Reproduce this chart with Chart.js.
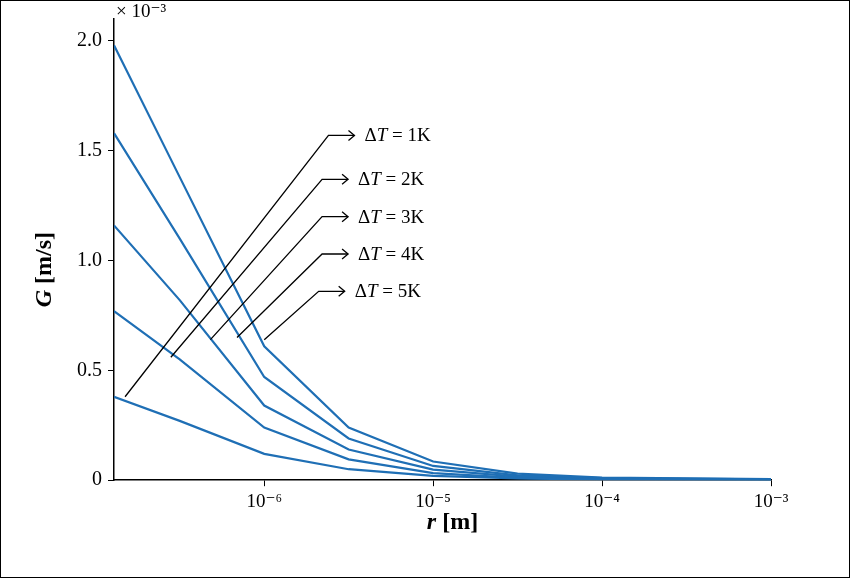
<!DOCTYPE html>
<html><head><meta charset="utf-8">
<script src="https://cdn.jsdelivr.net/npm/chart.js@4/dist/chart.umd.min.js"></script>
<style>body{margin:0;background:#fff}#w{width:848px;height:576px;border:1px solid #000;position:relative}canvas{display:block}</style>
</head><body><div id="w"><canvas id="c" width="848" height="576" style="width:848px;height:576px"></canvas></div>
<script>
const rValues=[1.29e-7,3.16e-7,1e-6,3.16e-6,1e-5,3.16e-5,1e-4,1e-3];
const g5=[1.98,1.38,0.61,0.24,0.085,0.03,0.012,0.005];
const g4=[1.58,1.10,0.47,0.19,0.065,0.022,0.009,0.004];
const g3=[1.16,0.82,0.34,0.14,0.048,0.016,0.007,0.003];
const g2=[0.77,0.55,0.24,0.095,0.032,0.011,0.005,0.002];
const g1=[0.38,0.27,0.12,0.05,0.02,0.008,0.003,0.001];
const seriesLabels=['ΔT = 1K','ΔT = 2K','ΔT = 3K','ΔT = 4K','ΔT = 5K'];
// leader line start (on curve) and elbow, in data units (r, G×1e-3)
const leaderStartR=[1.5e-7,2.8e-7,4.8e-7,6.9e-7,1e-6];
const leaderStartG=[0.38,0.56,0.64,0.65,0.64];
const leaderElbowR=[2.4e-6,2.2e-6,2.2e-6,2.2e-6,2.1e-6];
const leaderElbowG=[1.57,1.37,1.20,1.03,0.86];
const yTicks=[0,0.5,1.0,1.5,2.0];
const xTicks=[1e-6,1e-5,1e-4,1e-3];
const sup={'-':'⁻','0':'⁰','1':'¹','2':'²','3':'³','4':'⁴','5':'⁵','6':'⁶','7':'⁷','8':'⁸','9':'⁹'};
const all=[g1,g2,g3,g4,g5];
const blue='#1f6fb5';
const serif='"Liberation Serif", "DejaVu Serif", serif';
const deco={id:'deco',afterDraw(ch){
  const c=ch.ctx,x=ch.scales.x,y=ch.scales.y,a=ch.chartArea;
  c.save();c.strokeStyle='#000';c.lineWidth=1.3;c.fillStyle='#000';
  c.textBaseline='middle';
  for(let i=0;i<5;i++){
    const x0=x.getPixelForValue(leaderStartR[i]),y0=y.getPixelForValue(leaderStartG[i]);
    const x1=x.getPixelForValue(leaderElbowR[i]),y1=y.getPixelForValue(leaderElbowG[i]);
    c.beginPath();c.moveTo(x0,y0);c.lineTo(x1,y1);c.lineTo(x1+26,y1);c.stroke();
    c.beginPath();c.moveTo(x1+20,y1-5);c.lineTo(x1+26,y1);c.lineTo(x1+20,y1+5);c.stroke();
    const tx=x1+36;
    c.font='19px '+serif;c.fillText('Δ',tx,y1+1);let w=c.measureText('Δ').width;
    c.font='italic 19px '+serif;c.fillText('T',tx+w,y1+1);w+=c.measureText('T').width;
    c.font='19px '+serif;c.fillText(' = '+(i+1)+'K',tx+w,y1+1);
  }
  c.font='19px '+serif;c.textBaseline='alphabetic';c.fillText('× 10⁻³',a.left+2,a.top-2);
  c.font='bold italic 24px '+serif;let t1='r',t2=' [m]';
  let w1=c.measureText(t1).width;c.font='bold 24px '+serif;let w2=c.measureText(t2).width;
  let cx=(a.left+a.right)/2-(w1+w2)/2+10;
  c.font='bold italic 24px '+serif;c.fillText(t1,cx,528);c.font='bold 24px '+serif;c.fillText(t2,cx+w1,528);
  c.translate(44,(a.top+a.bottom)/2+20);c.rotate(-Math.PI/2);
  c.font='bold italic 24px '+serif;w1=c.measureText('G').width;c.font='bold 24px '+serif;w2=c.measureText(' [m/s]').width;
  c.textBaseline='middle';
  c.font='bold italic 24px '+serif;c.fillText('G',-(w1+w2)/2,0);c.font='bold 24px '+serif;c.fillText(' [m/s]',-(w1+w2)/2+w1,0);
  c.restore();
}};
new Chart(document.getElementById('c'),{type:'line',
 data:{datasets:all.map((g,i)=>({label:seriesLabels[i],data:rValues.map((r,j)=>({x:r,y:g[j]})),borderColor:blue,borderWidth:2.2,pointRadius:0,tension:0}))},
 options:{responsive:false,animation:false,devicePixelRatio:1,
  layout:{padding:{left:70,right:78,top:18,bottom:60}},
  plugins:{legend:{display:false},tooltip:{enabled:false}},
  scales:{
   x:{type:'logarithmic',min:1.29e-7,max:1e-3,border:{color:'#000',width:1.5},
    grid:{drawOnChartArea:false,color:'#000',tickLength:6},
    afterBuildTicks(s){s.ticks=xTicks.map(v=>({value:v,major:true}));},
    ticks:{color:'#000',font:{family:serif,size:19},padding:4,maxRotation:0,autoSkip:false,
     callback:v=>'10'+String(Math.round(Math.log10(v))).split('').map(ch=>sup[ch]).join('')}},
   y:{min:0,max:2.1,border:{color:'#000',width:1.5},
    grid:{drawOnChartArea:false,color:'#000',tickLength:6},
    afterBuildTicks(s){s.ticks=yTicks.map(v=>({value:v}));},
    ticks:{color:'#000',font:{family:serif,size:20},padding:6,callback:v=>v===0?'0':v.toFixed(1)}}
  }},
 plugins:[deco]});
</script></body></html>
